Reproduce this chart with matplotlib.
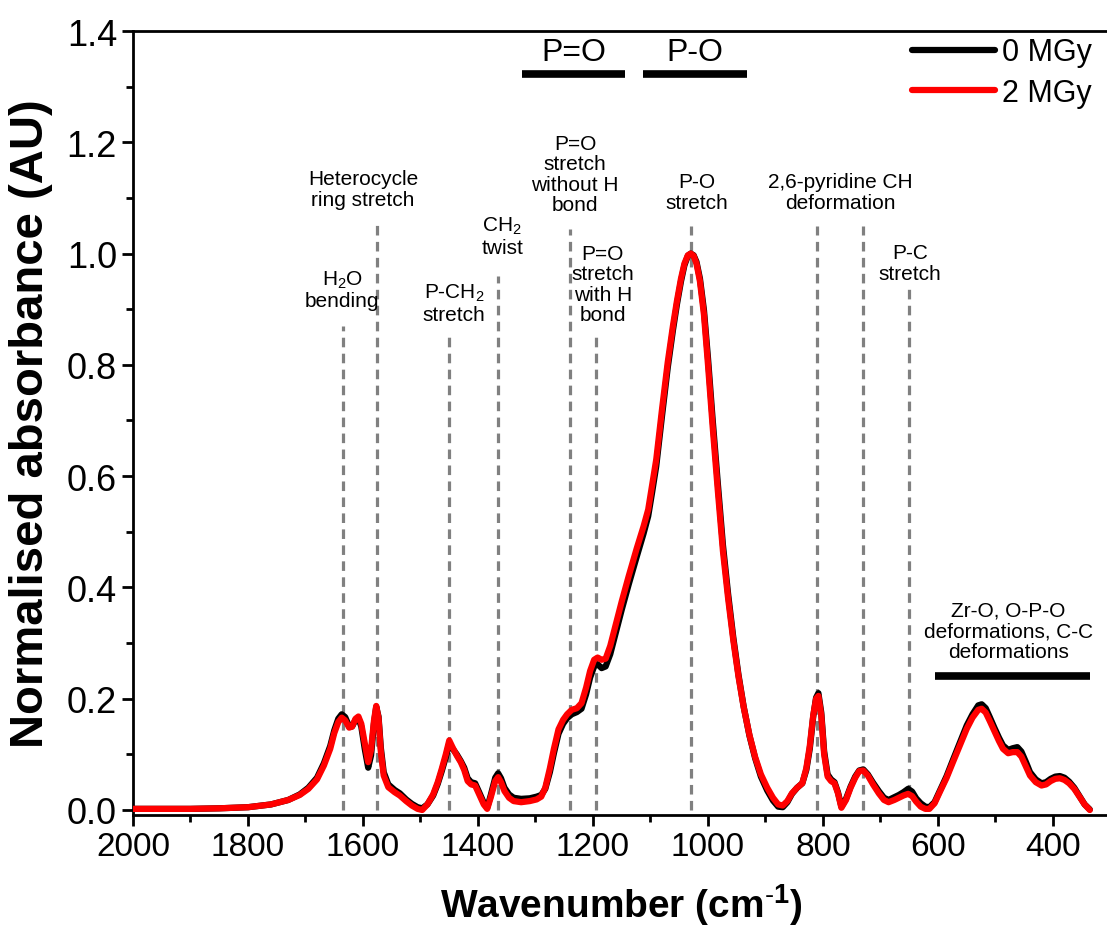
import matplotlib
matplotlib.use("Agg")
import matplotlib.pyplot as plt
from matplotlib.ticker import MultipleLocator

plt.rcParams['font.family'] = ['Liberation Sans', 'DejaVu Sans']
plt.rcParams['mathtext.fontset'] = 'custom'
plt.rcParams['mathtext.rm'] = 'Liberation Sans'
plt.rcParams['mathtext.bf'] = 'Liberation Sans:bold'
plt.rcParams['mathtext.default'] = 'regular'

# spectrum (wavenumber in cm-1)
wavenumber = [2000, 1900, 1850, 1800, 1760, 1730, 1710, 1695, 1680, 1668,
              1657, 1650, 1643, 1637, 1631, 1624, 1619, 1613, 1608, 1603,
              1597, 1591, 1586, 1581, 1577, 1573, 1569, 1564, 1556, 1545,
              1536, 1525, 1515, 1505, 1497, 1488, 1478, 1470, 1463, 1456,
              1450, 1444, 1437, 1430, 1424, 1418, 1412, 1405, 1398, 1390,
              1384, 1378, 1370, 1365, 1360, 1354, 1346, 1338, 1325, 1310,
              1298, 1290, 1283, 1275, 1268, 1260, 1252, 1245, 1237, 1228,
              1220, 1212, 1205, 1198, 1192, 1185, 1178, 1170, 1160, 1150,
              1138, 1124, 1112, 1104, 1097, 1090, 1080, 1070, 1061, 1054,
              1047, 1041, 1035, 1030, 1025, 1020, 1014, 1007, 1000, 992,
              983, 974, 965, 956, 947, 938, 928, 918, 908, 897,
              887, 878, 870, 862, 854, 845, 836, 829, 823, 817,
              812, 808, 803, 798, 792, 786, 780, 774, 768, 760,
              752, 744, 737, 730, 722, 713, 703, 694, 686, 676,
              668, 660, 652, 645, 638, 630, 622, 615, 606, 597,
              585, 574, 562, 550, 540, 530, 524, 517, 510, 502,
              494, 487, 478, 470, 462, 455, 447, 440, 430, 420,
              412, 404, 396, 388, 380, 372, 363, 354, 345, 336]

abs_2mgy = [0.002, 0.002, 0.003, 0.005, 0.010, 0.018, 0.027, 0.038, 0.055, 0.080,
            0.110, 0.138, 0.158, 0.166, 0.161, 0.148, 0.150, 0.164, 0.168, 0.155,
            0.120, 0.086, 0.108, 0.160, 0.187, 0.165, 0.105, 0.062, 0.041, 0.032,
            0.026, 0.016, 0.008, 0.002, 0.000, 0.010, 0.028, 0.050, 0.074, 0.100,
            0.125, 0.112, 0.098, 0.086, 0.072, 0.052, 0.046, 0.044, 0.028, 0.010,
            0.002, 0.022, 0.052, 0.059, 0.050, 0.034, 0.022, 0.016, 0.014, 0.016,
            0.019, 0.024, 0.040, 0.075, 0.110, 0.145, 0.162, 0.172, 0.180, 0.183,
            0.192, 0.220, 0.250, 0.270, 0.274, 0.270, 0.272, 0.295, 0.335, 0.375,
            0.420, 0.470, 0.510, 0.540, 0.585, 0.630, 0.720, 0.805, 0.870, 0.915,
            0.955, 0.982, 0.997, 1.000, 0.996, 0.982, 0.950, 0.890, 0.800, 0.690,
            0.575, 0.465, 0.380, 0.305, 0.240, 0.185, 0.135, 0.095, 0.064, 0.040,
            0.022, 0.010, 0.008, 0.016, 0.030, 0.040, 0.048, 0.075, 0.115, 0.170,
            0.200, 0.205, 0.170, 0.100, 0.060, 0.052, 0.048, 0.030, 0.004, 0.018,
            0.040, 0.058, 0.070, 0.071, 0.062, 0.046, 0.030, 0.018, 0.014, 0.018,
            0.022, 0.026, 0.029, 0.025, 0.015, 0.006, 0.002, 0.002, 0.012, 0.032,
            0.058, 0.086, 0.116, 0.146, 0.166, 0.180, 0.182, 0.175, 0.160, 0.142,
            0.124, 0.110, 0.102, 0.104, 0.104, 0.096, 0.078, 0.062, 0.050, 0.044,
            0.046, 0.052, 0.056, 0.057, 0.054, 0.048, 0.038, 0.024, 0.010, 0.000]

abs_0mgy = [0.002, 0.002, 0.003, 0.005, 0.010, 0.018, 0.028, 0.040, 0.058, 0.084,
            0.115, 0.143, 0.164, 0.172, 0.167, 0.150, 0.150, 0.162, 0.165, 0.150,
            0.110, 0.076, 0.098, 0.155, 0.185, 0.168, 0.112, 0.068, 0.046, 0.036,
            0.030, 0.019, 0.011, 0.005, 0.003, 0.010, 0.026, 0.047, 0.070, 0.095,
            0.120, 0.110, 0.100, 0.088, 0.076, 0.057, 0.050, 0.048, 0.032, 0.013,
            0.004, 0.026, 0.058, 0.066, 0.057, 0.040, 0.028, 0.022, 0.020, 0.021,
            0.024, 0.027, 0.038, 0.068, 0.102, 0.137, 0.155, 0.165, 0.172, 0.176,
            0.182, 0.208, 0.238, 0.258, 0.262, 0.255, 0.258, 0.280, 0.320, 0.360,
            0.405, 0.455, 0.497, 0.528, 0.572, 0.618, 0.708, 0.795, 0.862, 0.909,
            0.950, 0.979, 0.996, 1.000, 0.997, 0.985, 0.955, 0.898, 0.812, 0.703,
            0.588, 0.476, 0.388, 0.310, 0.243, 0.186, 0.134, 0.093, 0.060, 0.035,
            0.017, 0.006, 0.005, 0.014, 0.029, 0.040, 0.048, 0.072, 0.110, 0.168,
            0.202, 0.210, 0.175, 0.105, 0.064, 0.055, 0.050, 0.032, 0.006, 0.020,
            0.042, 0.060, 0.071, 0.073, 0.064, 0.049, 0.034, 0.022, 0.018, 0.023,
            0.027, 0.032, 0.038, 0.033, 0.021, 0.012, 0.006, 0.005, 0.014, 0.034,
            0.061, 0.090, 0.121, 0.152, 0.172, 0.188, 0.190, 0.183, 0.167, 0.148,
            0.130, 0.116, 0.108, 0.111, 0.113, 0.105, 0.086, 0.068, 0.055, 0.048,
            0.050, 0.056, 0.060, 0.061, 0.058, 0.051, 0.040, 0.025, 0.010, 0.001]

# assigned bands: dashed marker lines
peak_pos = [1635, 1575, 1450, 1365, 1240, 1195, 1030, 810, 730, 650]
peak_top = [0.87, 1.057, 0.852, 0.96, 1.044, 0.852, 1.05, 1.05, 1.05, 0.936]

# band labels
label_text = ["H$_2$O\nbending", "Heterocycle\nring stretch", "P-CH$_2$\nstretch",
              "CH$_2$\ntwist", "P=O\nstretch\nwithout H\nbond", "P=O\nstretch\nwith H\nbond",
              "P-O\nstretch", "2,6-pyridine CH\ndeformation", "P-C\nstretch",
              "Zr-O, O-P-O\ndeformations, C-C\ndeformations"]
label_x = [1636, 1600, 1442, 1358, 1231, 1183, 1019, 770, 649, 478]
label_y = [0.936, 1.116, 0.911, 1.032, 1.143, 0.945, 1.111, 1.111, 0.983, 0.322]

# horizontal range bars
range_text = ["P=O", "P-O", ""]
range_start = [1323, 1113, 605]
range_end = [1144, 932, 336]
range_y = [1.323, 1.323, 0.241]

fig = plt.figure(figsize=(11.07, 9.45), dpi=100)
ax = fig.add_axes([133 / 1107, 1 - 816 / 945, 977.5 / 1107, 784 / 945])

ax.plot(wavenumber, abs_0mgy, color="black", lw=4.5, label="0 MGy", zorder=3,
        solid_joinstyle="round", solid_capstyle="round")
ax.plot(wavenumber, abs_2mgy, color="#ff0000", lw=4.5, label="2 MGy", zorder=4,
        solid_joinstyle="round", solid_capstyle="round")

for x, top in zip(peak_pos, peak_top):
    ax.plot([x, x], [0, top], color="#808080", lw=2.3, linestyle=(0, (3, 2)), zorder=2)

for t, x, y in zip(label_text, label_x, label_y):
    ax.text(x, y, t, ha="center", va="center", multialignment="center",
            fontsize=15, linespacing=1.1)

for t, x0, x1, y in zip(range_text, range_start, range_end, range_y):
    ax.plot([x0, x1], [y, y], color="black", lw=5.5, solid_capstyle="butt")
    if t:
        ax.text((x0 + x1) / 2, y + 0.012, t, ha="center", va="bottom", fontsize=23)

ax.set_xlim(2000, 300)
ax.set_ylim(-0.009, 1.4)
ax.xaxis.set_major_locator(MultipleLocator(200))
ax.xaxis.set_minor_locator(MultipleLocator(100))
ax.yaxis.set_major_locator(MultipleLocator(0.2))
ax.yaxis.set_minor_locator(MultipleLocator(0.1))
ax.set_xticks([2000, 1800, 1600, 1400, 1200, 1000, 800, 600, 400])
ax.set_yticks([0.0, 0.2, 0.4, 0.6, 0.8, 1.0, 1.2, 1.4])
ax.set_yticklabels(["0.0", "0.2", "0.4", "0.6", "0.8", "1.0", "1.2", "1.4"])

ax.tick_params(which="both", direction="out", width=2, top=False, right=False)
ax.tick_params(axis="x", labelsize=24)
ax.tick_params(axis="y", labelsize=26)
ax.tick_params(which="major", length=8)
ax.tick_params(which="minor", length=5)
for s in ["left", "bottom", "top"]:
    ax.spines[s].set_linewidth(2)
ax.spines["right"].set_visible(False)

ax.set_xlabel(r"Wavenumber (cm$^{\mathbf{\text{-}1}}$)", fontsize=28, fontweight="bold", labelpad=14)
ax.set_ylabel("Normalised absorbance (AU)", fontsize=34, fontweight="bold", labelpad=10)

ax.legend(loc="upper left", bbox_to_anchor=(0.797, 0.992), frameon=False, fontsize=22,
          handlelength=2.7, handletextpad=0.25, labelspacing=0.35, borderpad=0,
          borderaxespad=0)

fig.savefig("out.png", dpi=100)
